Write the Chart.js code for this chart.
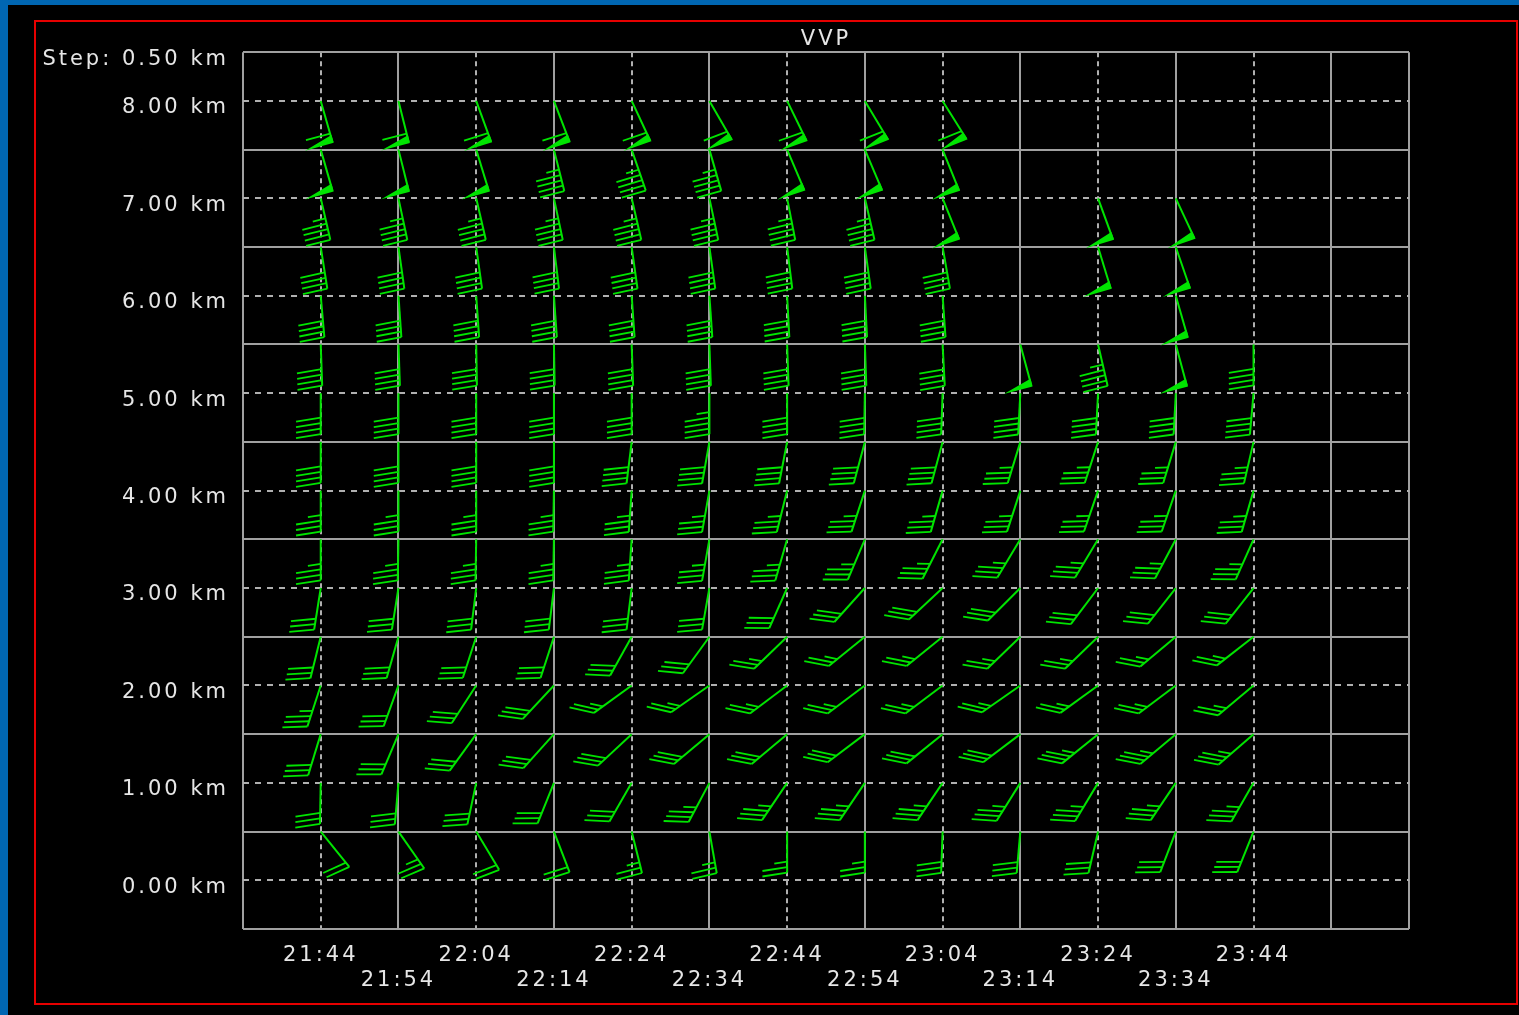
<!DOCTYPE html>
<html>
<head>
<meta charset="utf-8">
<title>VVP</title>
<script src="https://cdn.jsdelivr.net/npm/chart.js@4.4.1/dist/chart.umd.min.js"></script>
<style>
  html, body { margin: 0; padding: 0; width: 1519px; height: 1015px; overflow: hidden; background: #0066b2; }
  #panel { position: absolute; left: 8px; top: 5px; right: 0; bottom: 0; background: #000; }
  #frame { position: absolute; left: 34px; top: 20px; width: 1484px; height: 985px; box-sizing: border-box; border: 2px solid #e60000; }
  #c { position: absolute; left: 0; top: 0; }
</style>
</head>
<body>
<div id="panel"></div>
<div id="frame"></div>
<canvas id="c" width="1519" height="1015"></canvas>
<script>
// volume scan times (x) and heights in km (y)
const times = ['21:44', '21:54', '22:04', '22:14', '22:24', '22:34', '22:44',
               '22:54', '23:04', '23:14', '23:24', '23:34', '23:44'];
const levels = [0.5, 1.0, 1.5, 2.0, 2.5, 3.0, 3.5, 4.0, 4.5, 5.0, 5.5, 6.0, 6.5, 7.0, 7.5, 8.0];
const heightTicks = [0, 1, 2, 3, 4, 5, 6, 7, 8];
const stepLabel = 'Step: 0.50 km';

// wind direction (deg), one row per level, one column per time
const windDir = [
  [141, 145, 149, 159, 166, 170, 180, 180, 182, 185, 193, 201, 202],  // 0.5
  [181, 185, 192, 202, 210, 208, 214, 214, 214, 212, 211, 214, 210],  // 1.0
  [197, 203, 216, 222, 227, 230, 230, 233, 231, 233, 231, 230, 229],  // 1.5
  [198, 200, 213, 223, 234, 235, 233, 233, 233, 235, 234, 233, 230],  // 2.0
  [194, 196, 198, 198, 209, 216, 226, 231, 231, 226, 226, 230, 232],  // 2.5
  [189, 189, 187, 187, 187, 190, 204, 222, 227, 225, 217, 218, 218],  // 3.0
  [180, 181, 181, 181, 184, 190, 196, 203, 207, 211, 211, 208, 204],  // 3.5
  [180, 180, 180, 181, 184, 190, 194, 198, 196, 198, 199, 199, 196],  // 4.0
  [180, 180, 180, 180, 187, 190, 191, 195, 195, 197, 198, 197, 193],  // 4.5
  [180, 180, 180, 180, 180, 180, 180, 181, 182, 183, 183, 183, 185],  // 5.0
  [178, 178, 179, 179, 178, 178, 178, 178, 177, 165, 167, 165, 180],  // 5.5
  [175, 176, 176, 176, 176, 176, 177, 177, 176, null, null, 164, null],  // 6.0
  [171, 172, 172, 173, 172, 172, 173, 172, 170, null, 163, 161, null],  // 6.5
  [167, 168, 167, 168, 167, 168, 169, 167, 158, null, 160, 155, null],  // 7.0
  [164, 166, 163, 166, 161, 164, 157, 157, 158, null, null, null, null],  // 7.5
  [164, 166, 160, 159, 155, 150, 154, 149, 148, null, null, null, null]   // 8.0
];

// wind speed (knots), same layout
const windSpeed = [
  [20, 25, 20, 20, 25, 25, 25, 25, 30, 30, 30, 30, 30],  // 0.5
  [30, 30, 30, 30, 30, 35, 35, 35, 35, 35, 35, 35, 35],  // 1.0
  [30, 30, 30, 30, 30, 30, 30, 30, 30, 30, 35, 35, 35],  // 1.5
  [35, 30, 30, 30, 25, 25, 25, 25, 25, 25, 25, 25, 25],  // 2.0
  [30, 30, 30, 30, 30, 30, 25, 25, 25, 25, 25, 25, 25],  // 2.5
  [30, 30, 30, 30, 30, 30, 30, 30, 30, 30, 30, 30, 30],  // 3.0
  [35, 35, 35, 35, 35, 35, 35, 35, 35, 35, 35, 35, 35],  // 3.5
  [35, 35, 35, 35, 35, 35, 35, 35, 35, 35, 35, 35, 35],  // 4.0
  [40, 40, 40, 40, 40, 40, 40, 40, 40, 35, 35, 35, 35],  // 4.5
  [40, 40, 40, 40, 40, 45, 40, 40, 40, 40, 40, 40, 40],  // 5.0
  [40, 40, 40, 40, 40, 40, 40, 40, 40, 50, 45, 50, 40],  // 5.5
  [40, 40, 40, 40, 40, 40, 40, 40, 40, null, null, 50, null],  // 6.0
  [40, 40, 40, 40, 40, 40, 40, 40, 40, null, 50, 50, null],  // 6.5
  [45, 45, 45, 45, 45, 45, 45, 45, 50, null, 50, 50, null],  // 7.0
  [50, 50, 50, 45, 45, 45, 50, 50, 50, null, null, null, null],  // 7.5
  [60, 60, 60, 60, 60, 60, 60, 60, 60, null, null, null, null]   // 8.0
];

const FONT = { family: 'DejaVu Sans', size: 21, weight: 'normal' };
const TEXT = '#e6e6e6';
const SOLID = '#a0a0a0';
const DASHED = '#b0b0b0';
const GREEN = '#00e400';

// solid grid lines sit between the scan columns / half-km levels
const xSolid = [-1];
for (let i = 1; i <= times.length; i += 2) xSolid.push(i);
xSolid.push(times.length + 1);
const ySolid = heightTicks.map(h => h - 0.5).concat([8.5]);

const points = [];
levels.forEach((h, j) => {
  times.forEach((t, i) => {
    if (windSpeed[j][i] == null) return;
    points.push({ x: i, y: h, dir: windDir[j][i], spd: windSpeed[j][i] });
  });
});

function drawBarb(ctx, x, y, dir, spd) {
  const a = dir * Math.PI / 180;
  const ux = Math.sin(a), uy = -Math.cos(a);          // station -> tail, screen coords
  const len = 41 + 7 * Math.abs(ux);
  const fa = (135 + 0.4 * Math.atan2(uy, ux) * 180 / Math.PI) * Math.PI / 180;
  const fx = Math.cos(fa), fy = Math.sin(fa);
  const px = d => x + ux * d, py = d => y + uy * d;

  ctx.lineWidth = 2;
  ctx.beginPath();
  ctx.moveTo(x, y);
  ctx.lineTo(px(len), py(len));
  ctx.stroke();

  ctx.lineWidth = 1.8;
  let rest = Math.round(spd / 5) * 5;
  let d = len;
  while (rest >= 50) {
    ctx.beginPath();
    ctx.moveTo(px(d), py(d));
    ctx.lineTo(px(d) + fx * 22, py(d) + fy * 22);
    ctx.lineTo(px(d - 6), py(d - 6));
    ctx.closePath();
    ctx.fill();
    ctx.stroke();
    rest -= 50;
    d -= 9;
  }
  while (rest >= 5) {
    const fl = rest >= 10 ? 25 : 13;
    ctx.beginPath();
    ctx.moveTo(px(d), py(d));
    ctx.lineTo(px(d) + fx * fl, py(d) + fy * fl);
    ctx.stroke();
    rest -= rest >= 10 ? 10 : 5;
    d -= 5.5;
  }
}

const barbs = {
  id: 'barbs',
  beforeDraw(chart) {
    chart.ctx.letterSpacing = '3px';
  },
  afterDatasetsDraw(chart) {
    const ctx = chart.ctx;
    const ds = chart.data.datasets[0];
    ctx.save();
    ctx.strokeStyle = GREEN;
    ctx.fillStyle = GREEN;
    ctx.lineCap = 'butt';
    chart.getDatasetMeta(0).data.forEach((el, k) => {
      drawBarb(ctx, el.x, el.y, ds.data[k].dir, ds.data[k].spd);
    });
    ctx.restore();
  }
};

new Chart(document.getElementById('c'), {
  type: 'scatter',
  data: {
    datasets: [{ data: points, pointRadius: 0, pointHoverRadius: 0, showLine: false }]
  },
  options: {
    responsive: false,
    animation: false,
    events: [],
    layout: { padding: { left: 0, right: 110, top: 27, bottom: 0 } },
    plugins: {
      legend: { display: false },
      tooltip: { enabled: false },
      title: {
        display: true, text: 'VVP', color: TEXT, font: FONT,
        padding: { top: 0, bottom: 0 }, fullSize: false
      }
    },
    scales: {
      x: {
        type: 'linear', min: -1, max: times.length + 1, position: 'bottom',
        afterBuildTicks: s => { s.ticks = times.map((t, i) => ({ value: i })); },
        afterFit: s => { s.height = 86; },
        ticks: {
          color: TEXT, font: FONT, padding: 14, autoSkip: false, maxRotation: 0, minRotation: 0,
          callback: (v, i) => i % 2 ? ['', times[i]] : [times[i], '']
        },
        grid: { drawTicks: false, lineWidth: 2, color: c => c.index % 2 ? 'transparent' : DASHED },
        border: { display: false, dash: [5, 4] }
      },
      xGrid: {
        type: 'linear', min: -1, max: times.length + 1, position: 'bottom',
        afterBuildTicks: s => { s.ticks = xSolid.map(v => ({ value: v })); },
        afterFit: s => { s.height = 0; },
        ticks: { display: false },
        grid: { drawTicks: false, lineWidth: 2, color: SOLID },
        border: { display: false }
      },
      y: {
        type: 'linear', min: -0.5, max: 8.5, position: 'left',
        afterBuildTicks: s => { s.ticks = heightTicks.concat([8.5]).map(v => ({ value: v })); },
        afterFit: s => { s.width = 243; },
        ticks: {
          color: TEXT, font: FONT, padding: 14, labelOffset: 7, autoSkip: false,
          callback: v => v > 8 ? stepLabel : v.toFixed(2) + ' km'
        },
        grid: { drawTicks: false, lineWidth: 2, color: c => c.tick.value > 8 ? 'transparent' : DASHED },
        border: { display: false, dash: [6, 6] }
      },
      yGrid: {
        type: 'linear', min: -0.5, max: 8.5, position: 'left',
        afterBuildTicks: s => { s.ticks = ySolid.map(v => ({ value: v })); },
        afterFit: s => { s.width = 0; },
        ticks: { display: false },
        grid: { drawTicks: false, lineWidth: 2, color: SOLID },
        border: { display: false }
      }
    }
  },
  plugins: [barbs]
});
</script>
</body>
</html>
